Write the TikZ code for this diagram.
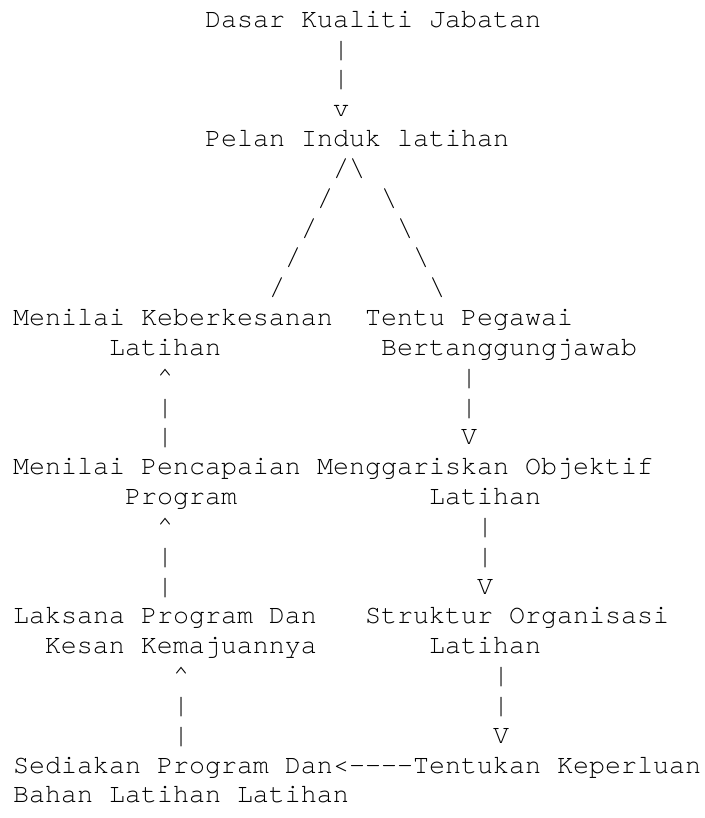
\documentclass[tikz,border=0pt]{standalone}
\usepackage{fontspec}
\newfontfamily\courfont{TeX Gyre Cursor}
\tikzset{
  txt/.style={inner sep=0pt, outer sep=0pt, anchor=base west, font=\courfont\fontsize{20pt}{24pt}\selectfont, text=black}
}
\newcommand\TX[4]{\node[txt] (#1) at ({13+16*#2},{27.3+29.83*(#3-1)}) {#4};}
\begin{document}
\begin{tikzpicture}[x=0.75pt,y=-0.75pt]
\fill[white] (0,0) rectangle (705,818);
\useasboundingbox (0,0) rectangle (705,818);
\TX{dasar}{12}{1}{Dasar Kualiti Jabatan}
\TX{a1}{20}{2}{|}
\TX{a2}{20}{3}{|}
\TX{a3}{20}{4}{v}
\TX{pelan}{12}{5}{Pelan Induk latihan}
\TX{s6}{20}{6}{/\textbackslash}
\TX{l7}{19}{7}{/}
\TX{r7}{23}{7}{\textbackslash}
\TX{l8}{18}{8}{/}
\TX{r8}{24}{8}{\textbackslash}
\TX{l9}{17}{9}{/}
\TX{r9}{25}{9}{\textbackslash}
\TX{l10}{16}{10}{/}
\TX{r10}{26}{10}{\textbackslash}
\TX{menilaiA}{0}{11}{Menilai Keberkesanan}
\TX{tentuA}{22}{11}{Tentu Pegawai}
\TX{menilaiB}{6}{12}{Latihan}
\TX{tentuB}{23}{12}{Bertanggungjawab}
\TX{b13l}{9}{13}{\textasciicircum}
\TX{b13r}{28}{13}{|}
\TX{b14l}{9}{14}{|}
\TX{b14r}{28}{14}{|}
\TX{b15l}{9}{15}{|}
\TX{b15r}{28}{15}{V}
\TX{pencA}{0}{16}{Menilai Pencapaian}
\TX{menggA}{19}{16}{Menggariskan Objektif}
\TX{pencB}{7}{17}{Program}
\TX{menggB}{26}{17}{Latihan}
\TX{c18l}{9}{18}{\textasciicircum}
\TX{c18r}{29}{18}{|}
\TX{c19l}{9}{19}{|}
\TX{c19r}{29}{19}{|}
\TX{c20l}{9}{20}{|}
\TX{c20r}{29}{20}{V}
\TX{laksA}{0}{21}{Laksana Program Dan}
\TX{strukA}{22}{21}{Struktur Organisasi}
\TX{laksB}{2}{22}{Kesan Kemajuannya}
\TX{strukB}{26}{22}{Latihan}
\TX{d23l}{10}{23}{\textasciicircum}
\TX{d23r}{30}{23}{|}
\TX{d24l}{10}{24}{|}
\TX{d24r}{30}{24}{|}
\TX{d25l}{10}{25}{|}
\TX{d25r}{30}{25}{V}
\TX{sediaA}{0}{26}{Sediakan Program Dan}
\TX{arrow}{20}{26}{<-{}-{}-{}-}
\TX{tentukan}{25}{26}{Tentukan Keperluan}
\TX{sediaB}{0}{27}{Bahan Latihan Latihan}
\end{tikzpicture}
\end{document}
